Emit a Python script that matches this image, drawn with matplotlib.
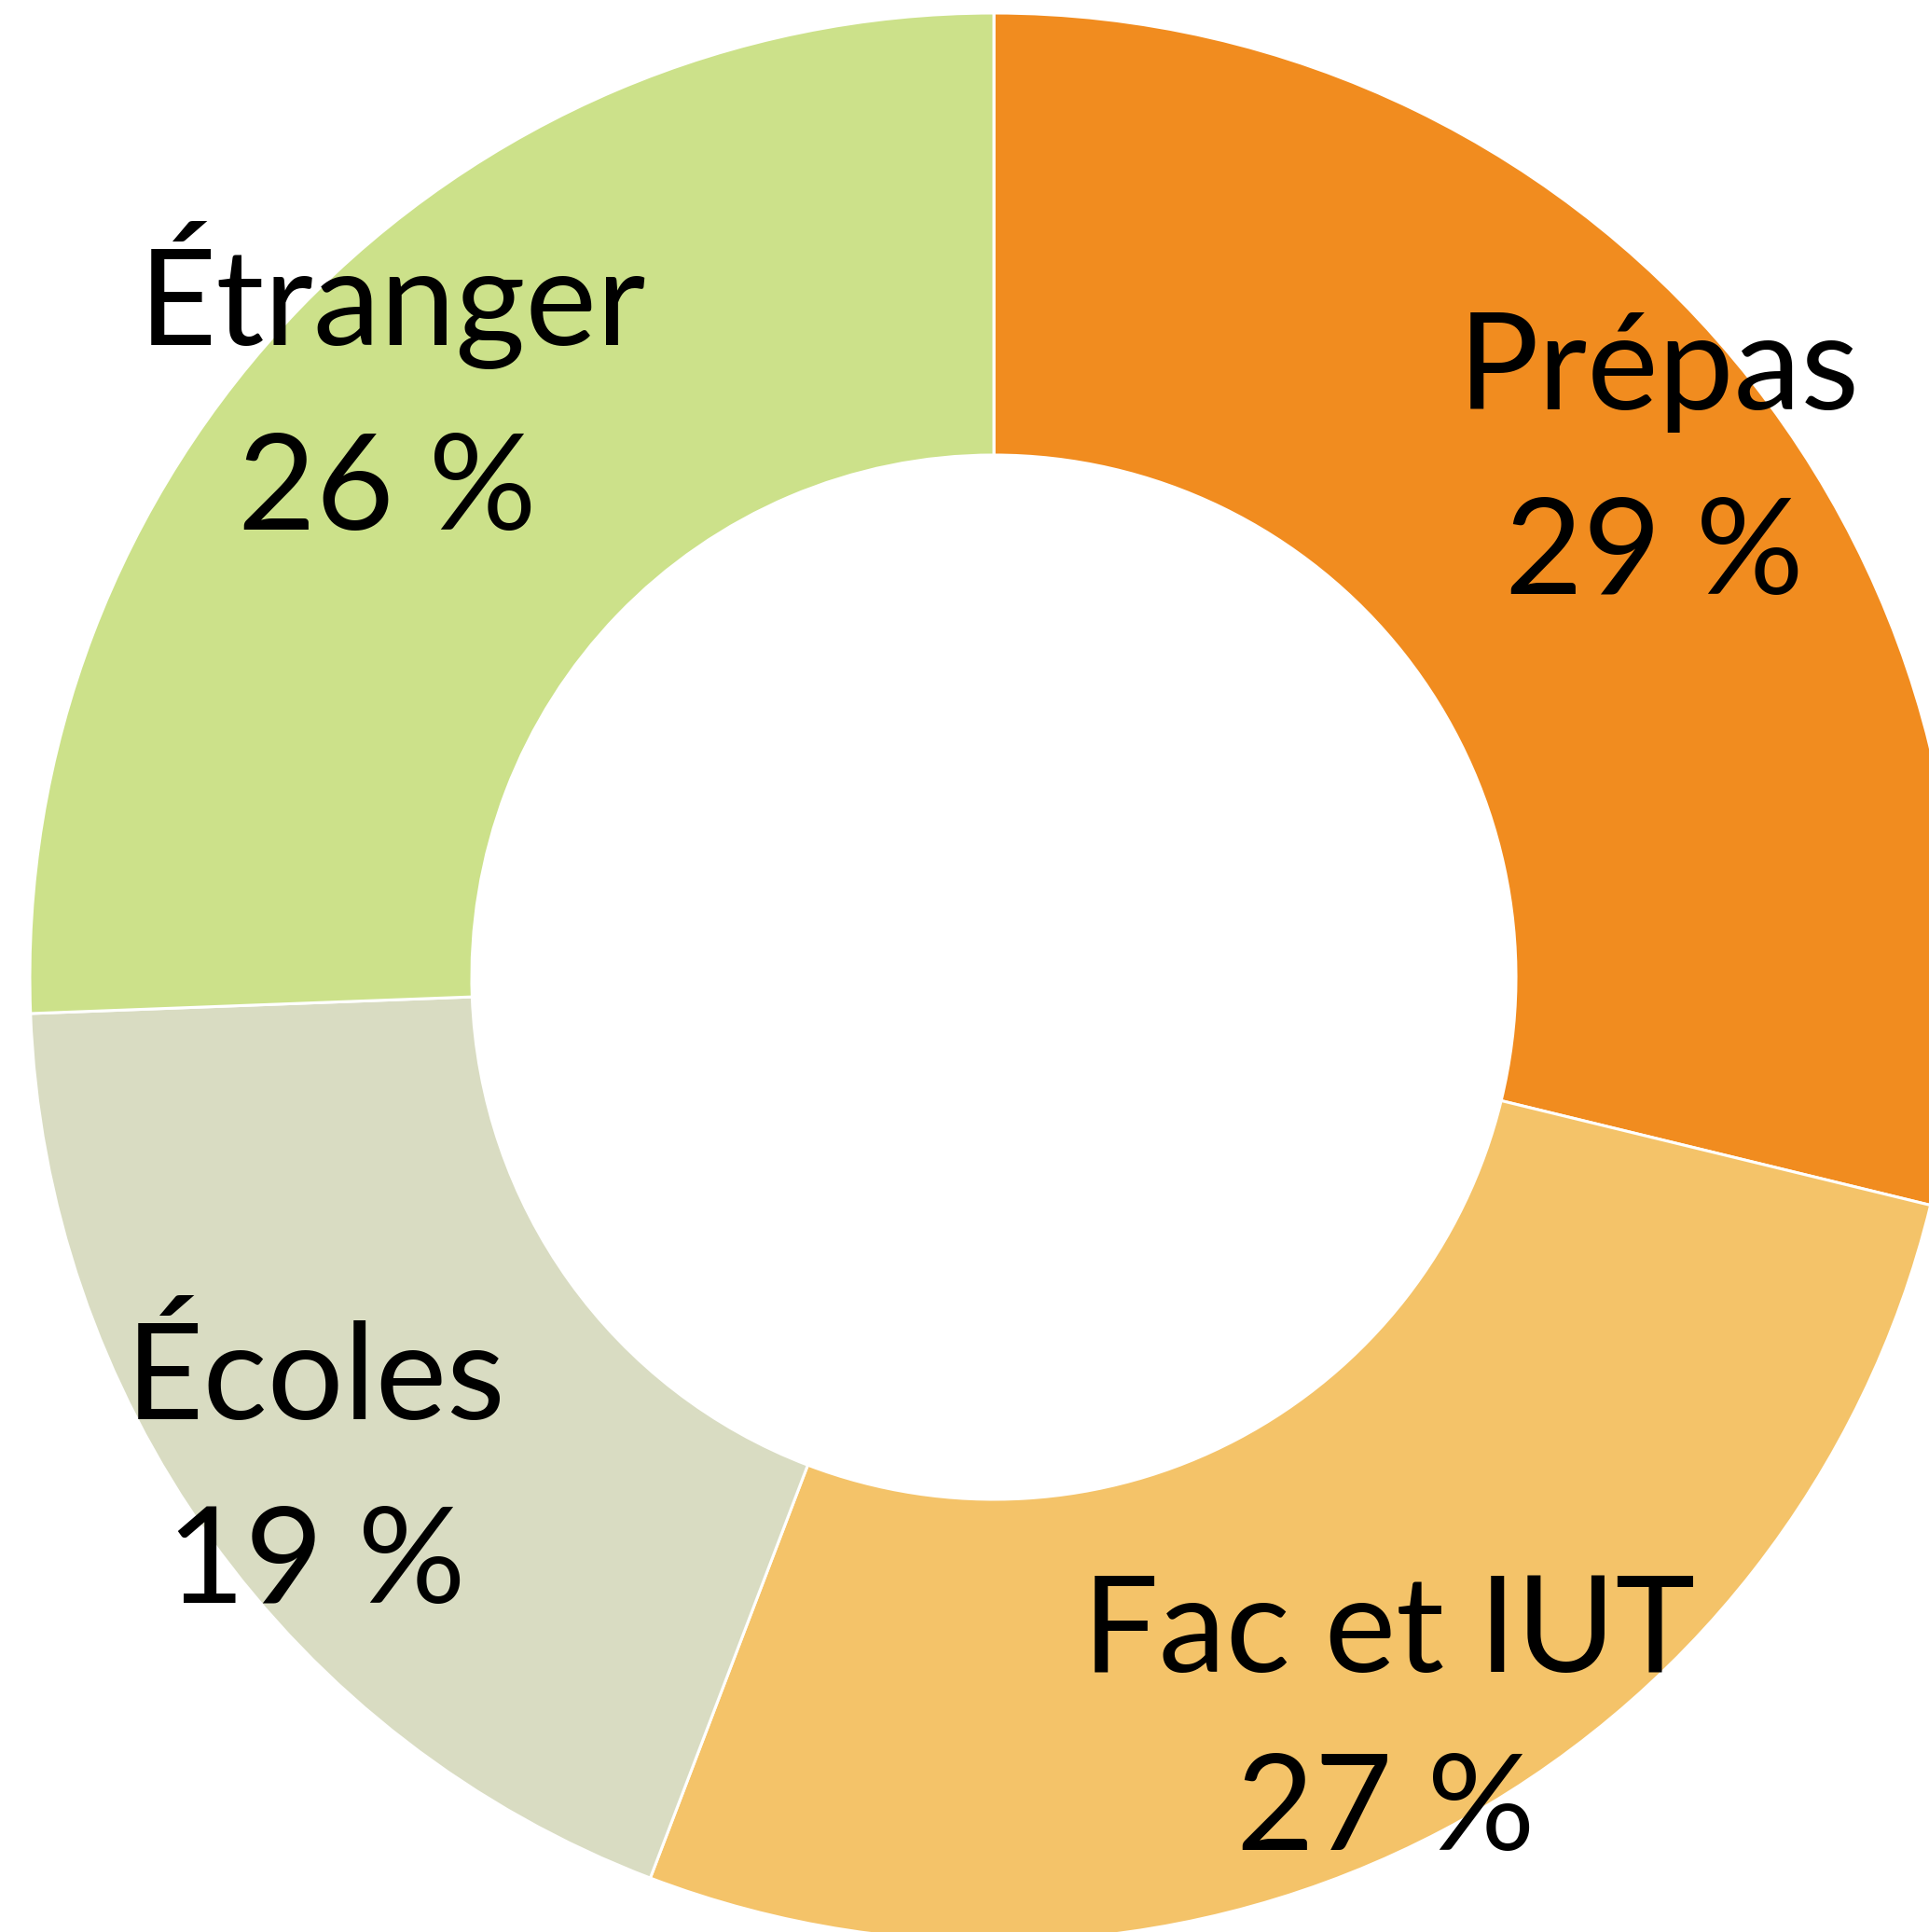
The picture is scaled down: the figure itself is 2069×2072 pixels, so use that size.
import matplotlib
matplotlib.use("Agg")
import matplotlib.pyplot as plt

categories = ["Prépas", "Fac et IUT", "Écoles", "Étranger"]
values = [28.8, 27.0, 18.6, 25.6]
pct_labels = ["29 %", "27 %", "19 %", "26 %"]
colors = ["#F18C1F", "#F4C369", "#D9DCC2", "#CCE18A"]

W, H = 2069, 2072
fig = plt.figure(figsize=(W / 100, H / 100), dpi=100)
ax = fig.add_axes([0, 0, 1, 1])
cx, cy = 1066, H - 1048
R_out, R_in = 1034, 560
ax.pie(values, colors=colors, startangle=90, counterclock=False,
       radius=R_out, center=(cx, cy),
       wedgeprops=dict(width=R_out - R_in, edgecolor="white", linewidth=2.2))
ax.set_xlim(0, W)
ax.set_ylim(0, H)
ax.set_aspect("equal")
ax.axis("off")

# label positions (center x, baseline y from top) for name and percentage
label_pos = [((1779, 439), (1774, 637)),
             ((1490, 1793), (1486, 1984)),
             ((339, 1522), (339, 1719)),
             ((421, 370), (415, 568))]
fs = 104
for name, pct, ((nx, ny), (px, py)) in zip(categories, pct_labels, label_pos):
    ax.text(nx, H - ny, name, ha="center", va="baseline", fontsize=fs,
            family=["Lato", "DejaVu Sans"], color="black")
    ax.text(px, H - py, pct, ha="center", va="baseline", fontsize=fs,
            family=["Lato", "DejaVu Sans"], color="black")

fig.savefig("out.png", dpi=100)
